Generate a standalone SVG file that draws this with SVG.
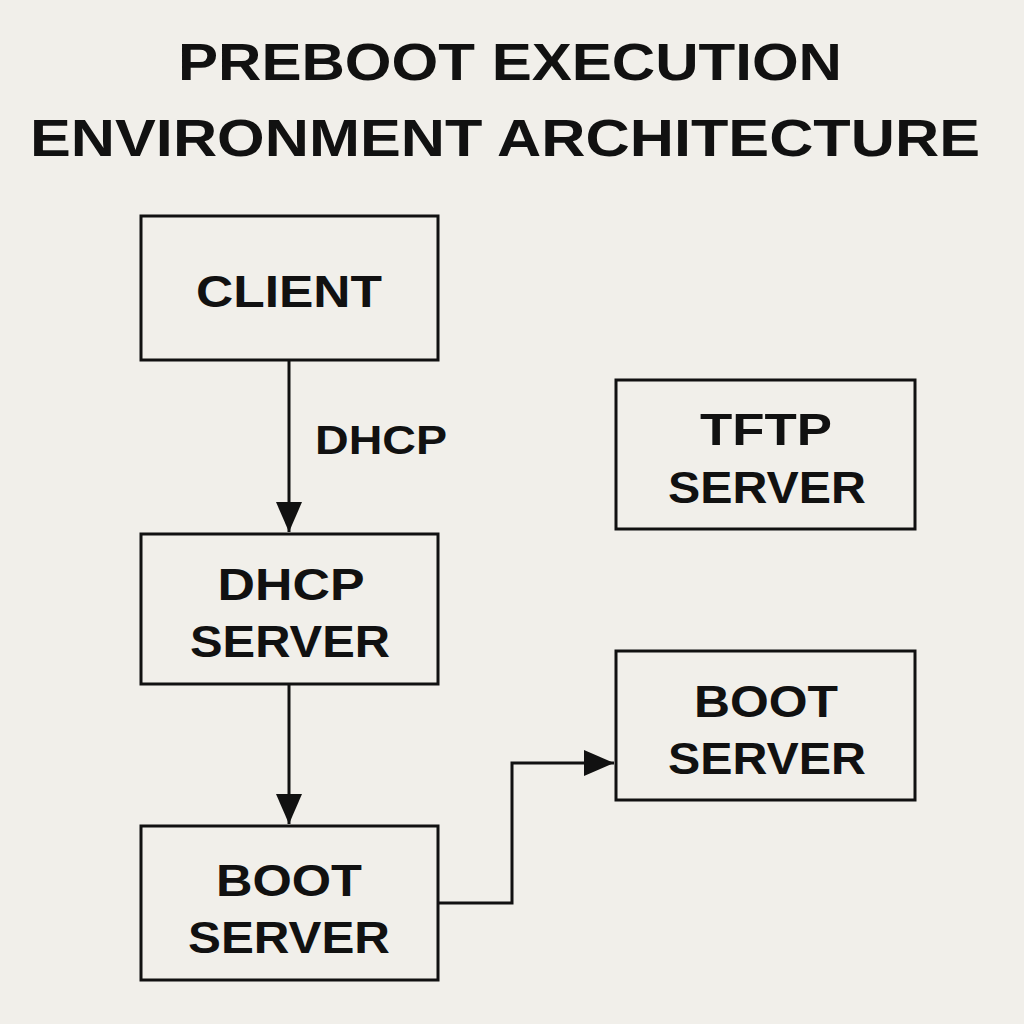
<svg xmlns="http://www.w3.org/2000/svg" width="1024" height="1024" viewBox="0 0 1024 1024">
<defs>
<style>
.box{fill:none;stroke:#111;stroke-width:3}
.t{font-family:"Liberation Sans",Arial,sans-serif;font-weight:bold;fill:#111;text-anchor:middle}
.lbl{font-size:44px}
.ttl{font-size:52px}
.c{fill:none;stroke:#111;stroke-width:3}
</style>
<marker id="ar2" markerWidth="32" markerHeight="32" refX="30" refY="16" orient="auto" markerUnits="userSpaceOnUse" viewBox="0 0 32 32">
<path d="M0,3 L30,16 L0,29 Z" fill="#111"/>
</marker>
</defs>
<rect width="1024" height="1024" fill="#f1efea"/>
<text class="t ttl" x="510" y="80" textLength="664" lengthAdjust="spacingAndGlyphs">PREBOOT EXECUTION</text>
<text class="t ttl" x="505" y="156" textLength="950" lengthAdjust="spacingAndGlyphs">ENVIRONMENT ARCHITECTURE</text>
<g id="connectors">
<line class="c" x1="289" y1="360" x2="289" y2="532" marker-end="url(#ar2)"/>
<line class="c" x1="289" y1="684" x2="289" y2="824" marker-end="url(#ar2)"/>
<polyline class="c" points="438,903 512,903 512,763 614,763" marker-end="url(#ar2)"/>
<text class="t" x="381" y="454" style="font-size:40px" textLength="132" lengthAdjust="spacingAndGlyphs">DHCP</text>
</g>
<g id="client"><rect class="box" x="141" y="216" width="297" height="144"/><text class="t lbl" x="289" y="307" textLength="186" lengthAdjust="spacingAndGlyphs">CLIENT</text></g>
<g id="dhcp"><rect class="box" x="141" y="534" width="297" height="150"/><text class="t lbl" x="291" y="600" textLength="147" lengthAdjust="spacingAndGlyphs">DHCP</text><text class="t lbl" x="290" y="657" textLength="200" lengthAdjust="spacingAndGlyphs">SERVER</text></g>
<g id="boot1"><rect class="box" x="141" y="826" width="297" height="154"/><text class="t lbl" x="289" y="896" textLength="146" lengthAdjust="spacingAndGlyphs">BOOT</text><text class="t lbl" x="289" y="953" textLength="202" lengthAdjust="spacingAndGlyphs">SERVER</text></g>
<g id="tftp"><rect class="box" x="616" y="380" width="299" height="149"/><text class="t lbl" x="766" y="445" textLength="132" lengthAdjust="spacingAndGlyphs">TFTP</text><text class="t lbl" x="767" y="503" textLength="198" lengthAdjust="spacingAndGlyphs">SERVER</text></g>
<g id="boot2"><rect class="box" x="616" y="651" width="299" height="149"/><text class="t lbl" x="766" y="717" textLength="144" lengthAdjust="spacingAndGlyphs">BOOT</text><text class="t lbl" x="767" y="774" textLength="198" lengthAdjust="spacingAndGlyphs">SERVER</text></g>
</svg>
